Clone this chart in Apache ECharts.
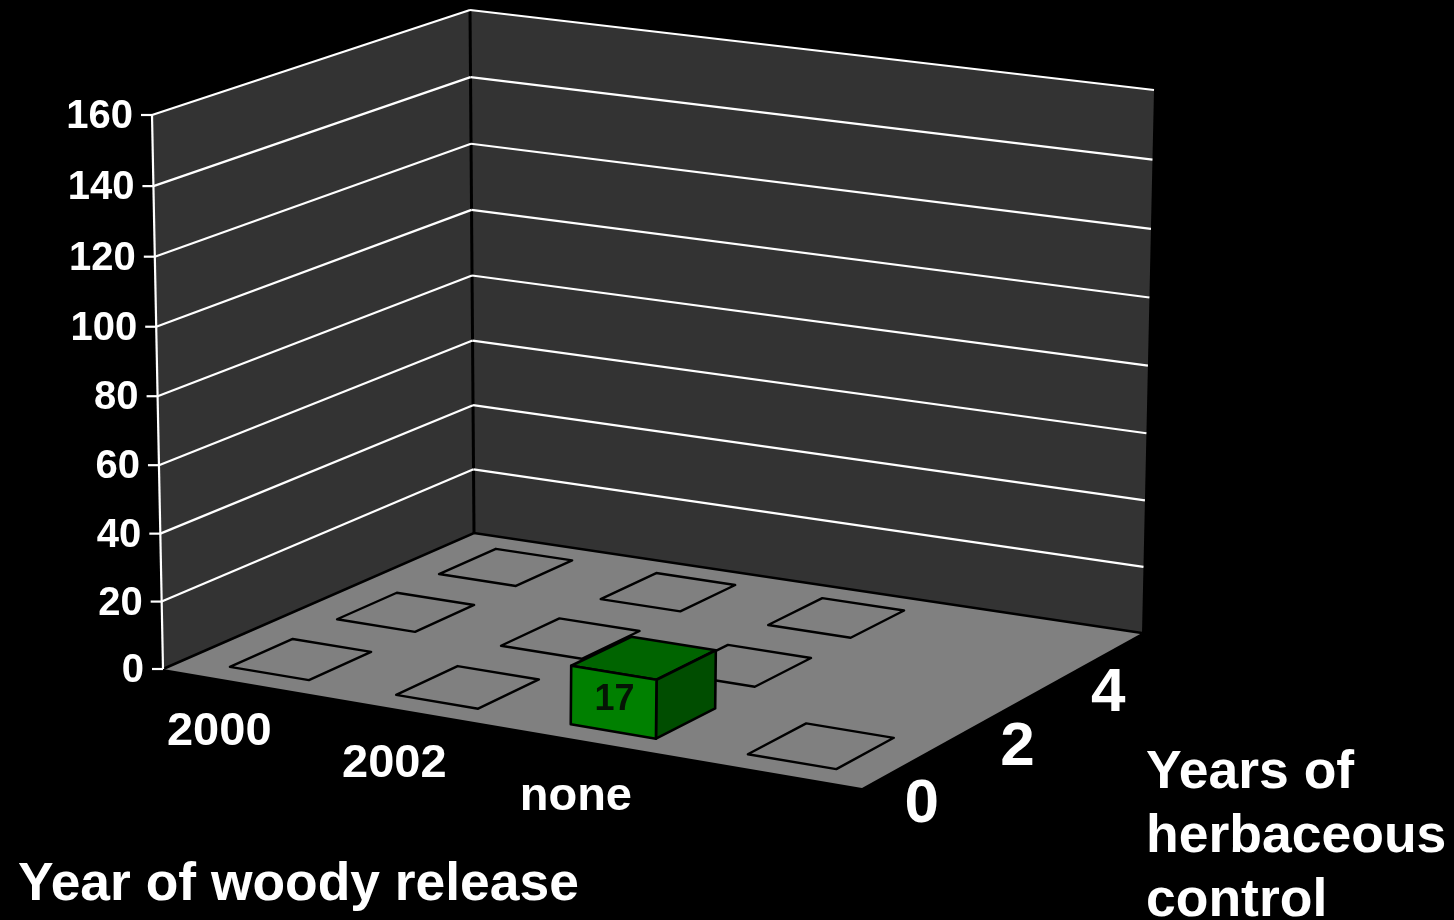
<!DOCTYPE html>
<html>
<head>
<meta charset="utf-8">
<style>html,body{margin:0;padding:0;background:#000}#chart{width:1454px;height:920px}</style>
<script src="https://cdn.jsdelivr.net/npm/echarts@6/dist/echarts.min.js"></script>
</head>
<body>
<div id="chart"></div>
<script>
// Categories along the two floor axes
const woodyCategories = ['2000', '2002', 'none', ''];
const herbCategories = ['0', '2', '4'];
const heightTicks = [0, 20, 40, 60, 80, 100, 120, 140, 160];

// Stem counts per woody-release column, ordered by years of herbaceous control
const values2000 = [0, 0, 0];
const values2002 = [0, 0, 0];
const valuesNone = [17, 0, 0];
const valuesBlank = [0, null, null];

const columns = [values2000, values2002, valuesNone, valuesBlank];

// Bars painted back to front so nearer boxes cover farther ones
const barData = [];
for (let row = herbCategories.length - 1; row >= 0; row--) {
  columns.forEach((col, c) => { if (col[row] !== null) barData.push([c, row, col[row]]); });
}

// Perspective frame of the box: floor and ceiling corners in screen space
const FLOOR = [[163, 669], [862, 788], [1142, 633], [474, 533]];
const CEIL = [[152, 115], [868, 205], [1154, 90], [470, 10]];
const HEIGHT_FORESHORTEN = 0.97;

// Projective map of the unit square onto a quad
function quadMap(q) {
  const [p0, p1, p2, p3] = q;
  const dx1 = p1[0] - p2[0], dx2 = p3[0] - p2[0], sx = p0[0] - p1[0] + p2[0] - p3[0];
  const dy1 = p1[1] - p2[1], dy2 = p3[1] - p2[1], sy = p0[1] - p1[1] + p2[1] - p3[1];
  const det = dx1 * dy2 - dx2 * dy1;
  const g = (sx * dy2 - dx2 * sy) / det, h = (dx1 * sy - sx * dy1) / det;
  const a = p1[0] - p0[0] + g * p1[0], b = p3[0] - p0[0] + h * p3[0];
  const d = p1[1] - p0[1] + g * p1[1], e = p3[1] - p0[1] + h * p3[1];
  return (u, v) => {
    const w = g * u + h * v + 1;
    return [(a * u + b * v + p0[0]) / w, (d * u + e * v + p0[1]) / w];
  };
}
const floorMap = quadMap(FLOOR);
const ceilMap = quadMap(CEIL);
const maxHeight = heightTicks[heightTicks.length - 1];

function project(u, v, value) {
  const r = echarts.number.linearMap(value, [0, maxHeight], [0, 1]);
  const k = HEIGHT_FORESHORTEN;
  const t = k * r / (1 + (k - 1) * r);
  const a = floorMap(u, v), b = ceilMap(u, v);
  return [a[0] + (b[0] - a[0]) * t, a[1] + (b[1] - a[1]) * t];
}

// Floor position of a category pair
function cellUV(api, params, col, row) {
  const pt = api.coord([col, row]);
  const cs = params.coordSys;
  return [(pt[0] - cs.x) / cs.width, 1 - (pt[1] - cs.y) / cs.height];
}

const FONT = '"Liberation Sans", Arial, sans-serif';
const poly = (points, fill, stroke, lw) => ({
  type: 'polygon', shape: { points },
  style: { fill, stroke: stroke || 'none', lineWidth: lw || 0, lineJoin: 'round' }
});
const line = (points, stroke, lw) => ({
  type: 'polyline', shape: { points },
  style: { fill: 'none', stroke, lineWidth: lw, lineJoin: 'miter' }
});
const label = (text, x, y, size, align, fill) => ({
  type: 'text',
  style: { text, x, y, fill: fill || '#fff', font: 'bold ' + size + 'px ' + FONT, textAlign: align, textVerticalAlign: 'middle' }
});

function renderRoom() {
  const wallFill = '#333333';
  return {
    type: 'group',
    children: [
      poly([project(0, 0, 0), project(0, 1, 0), project(0, 1, maxHeight), project(0, 0, maxHeight)], wallFill),
      poly([project(0, 1, 0), project(1, 1, 0), project(1, 1, maxHeight), project(0, 1, maxHeight)], wallFill),
      poly([project(0, 0, 0), project(1, 0, 0), project(1, 1, 0), project(0, 1, 0)], '#808080'),
      line([project(0, 0, 0), project(0, 1, 0), project(1, 1, 0)], '#000', 2.5),
      line([project(0, 1, 0), project(0, 1, maxHeight)], '#000', 3)
    ]
  };
}

function renderHeightTick(params, api) {
  const value = api.value(0);
  const a = project(0, 0, value), b = project(0, 1, value), c = project(1, 1, value);
  const children = [
    line([[a[0] - 11, a[1]], a], '#fff', 2.2),
    label(String(value), a[0] - 19, a[1] + 2, 40, 'right')
  ];
  if (value > 0) children.push(line([a, b], '#fff', 2.2), line([b, c], '#fff', 2.2));
  return { type: 'group', children };
}

function renderAxisLine() {
  return line([project(0, 0, 0), project(0, 0, maxHeight)], '#fff', 2.2);
}

function renderBar(params, api) {
  const col = api.value(0), row = api.value(1), value = api.value(2);
  const [cu0, cv0] = cellUV(api, params, col, row);
  // Boxes stand slightly off their cell centre, toward the right and front
  const cu = cu0 + 0.00375 + (value ? 0.003 : 0);
  const cv = cv0 - 0.0033;
  const hu = 0.5 * 0.48 / woodyCategories.length;
  const hv = 0.5 * 0.58 / herbCategories.length;
  const fl = [cu - hu, cv - hv], fr = [cu + hu, cv - hv], br = [cu + hu, cv + hv], bl = [cu - hu, cv + hv];
  const base = p => project(p[0], p[1], 0);
  const top = p => project(p[0], p[1], value);
  if (!value) return poly([base(fl), base(fr), base(br), base(bl)], '#808080', '#000', 2.4);
  const a = top(fl), b = top(fr), d = base(fl), e = base(fr);
  return {
    type: 'group',
    children: [
      poly([top(fl), top(fr), top(br), top(bl)], '#006400', '#000', 2.6),
      poly([top(fr), top(br), base(br), base(fr)], '#004d00', '#000', 2.6),
      poly([a, b, e, d], '#008000', '#000', 2.6),
      label(String(value), (a[0] + b[0] + d[0] + e[0]) / 4 + 1, (a[1] + b[1] + d[1] + e[1]) / 4 - 2, 36, 'center', '#051505')
    ]
  };
}

function renderWoodyLabel(params, api) {
  const [u] = cellUV(api, params, api.value(0), 0);
  const p = project(u, 0, 0);
  return label(woodyCategories[api.value(0)], p[0] - 29 + 28 * u, p[1] + 47.5 + 12.5 * u, 47, 'center');
}

function renderHerbLabel(params, api) {
  const [, v] = cellUV(api, params, 0, api.value(0));
  const p = project(1, v, 0);
  return label(herbCategories[api.value(0)], p[0] + 10, p[1] + 35 + 11 * (1 - v), 62, 'center');
}

const baseCustom = { type: 'custom', coordinateSystem: 'cartesian2d', clip: false, silent: true, animation: false };

const chart = echarts.init(document.getElementById('chart'));
chart.setOption({
  backgroundColor: '#000',
  animation: false,
  grid: { left: 0, top: 0, right: 0, bottom: 0, show: false },
  xAxis: { type: 'category', data: woodyCategories, show: false },
  yAxis: { type: 'category', data: herbCategories, show: false },
  series: [
    Object.assign({}, baseCustom, { name: 'room', data: [[0, 0]], renderItem: renderRoom, z: 1 }),
    Object.assign({}, baseCustom, { name: 'height ticks', data: heightTicks.map(v => [v]), encode: { x: 0, y: 0 }, renderItem: renderHeightTick, z: 2 }),
    Object.assign({}, baseCustom, { name: 'height axis', data: [[0, 0]], renderItem: renderAxisLine, z: 2 }),
    Object.assign({}, baseCustom, { name: 'bars', data: barData, renderItem: renderBar, z: 3 }),
    Object.assign({}, baseCustom, { name: 'woody labels', data: woodyCategories.map((_, i) => [i]), renderItem: renderWoodyLabel, z: 4 }),
    Object.assign({}, baseCustom, { name: 'herb labels', data: herbCategories.map((_, i) => [i]), renderItem: renderHerbLabel, z: 4 })
  ],
  graphic: [
    { type: 'text', left: 18, top: 859, style: { text: 'Year of woody release', fill: '#fff', font: 'bold 53.4px ' + FONT } },
    { type: 'text', left: 1146, top: 741, style: { text: 'Years of\nherbaceous\ncontrol', fill: '#fff', font: 'bold 53.5px ' + FONT, lineHeight: 64 } }
  ]
});
</script>
</body>
</html>
